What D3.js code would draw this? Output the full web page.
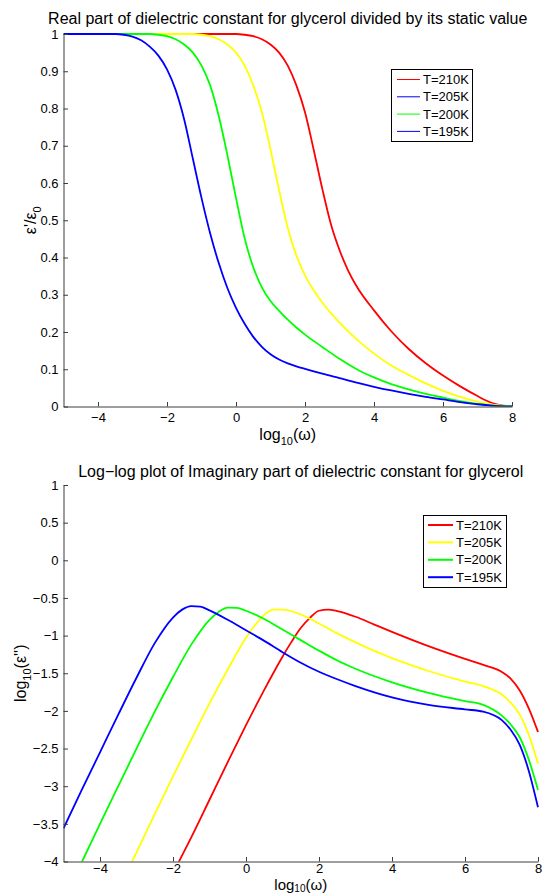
<!DOCTYPE html>
<html><head><meta charset="utf-8">
<script src="https://cdn.jsdelivr.net/npm/d3@7"></script>
<style>
html,body{margin:0;padding:0;background:#fff;}
svg{display:block;font-family:"Liberation Sans",Arial,Helvetica,sans-serif;}
</style></head>
<body>
<svg id="chart" width="543" height="895"></svg>
<script>
// ---------- data ----------
const seriesLabels = ["T=210K", "T=205K", "T=200K", "T=195K"];
const xTicks = [-4, -2, 0, 2, 4, 6, 8];
const yTicksTop = [0, 0.1, 0.2, 0.3, 0.4, 0.5, 0.6, 0.7, 0.8, 0.9, 1];
const yTicksBottom = [1, 0.5, 0, -0.5, -1, -1.5, -2, -2.5, -3, -3.5, -4];

// Real part eps'/eps0 vs log10(omega)
const realX210 = [-5, 0, 0.25, 0.5, 0.75, 1, 1.25, 1.5, 1.75, 2, 2.25, 2.5, 2.75, 3, 3.25, 3.5, 4, 4.5, 5, 5.5, 6, 6.5, 7, 7.25, 7.5, 7.75, 8];
const realY210 = [1, 1, 0.998, 0.994, 0.986, 0.972, 0.95, 0.915, 0.862, 0.79, 0.69, 0.585, 0.49, 0.42, 0.365, 0.322, 0.258, 0.202, 0.155, 0.116, 0.083, 0.054, 0.028, 0.016, 0.007, 0.002, 0];
const realX205 = [-5, -1.25, -1, -0.75, -0.5, -0.25, 0, 0.25, 0.5, 0.75, 1, 1.25, 1.5, 1.75, 2, 2.25, 2.5, 3, 3.5, 4, 4.5, 5, 5.5, 6, 6.5, 7, 7.5, 8];
const realY205 = [1, 1, 0.998, 0.994, 0.986, 0.972, 0.95, 0.915, 0.862, 0.79, 0.69, 0.58, 0.48, 0.405, 0.352, 0.312, 0.279, 0.225, 0.18, 0.142, 0.11, 0.085, 0.062, 0.042, 0.026, 0.013, 0.004, 0];
const realX200 = [-5, -2.5, -2.25, -2, -1.75, -1.5, -1.25, -1, -0.75, -0.5, -0.25, 0, 0.25, 0.5, 0.75, 1, 1.25, 1.5, 1.75, 2, 2.5, 3, 3.5, 4, 4.5, 5, 5.5, 6, 6.5, 7, 7.5, 8];
const realY200 = [1, 1, 0.998, 0.994, 0.986, 0.972, 0.95, 0.915, 0.862, 0.78, 0.675, 0.56, 0.452, 0.374, 0.32, 0.283, 0.257, 0.233, 0.212, 0.193, 0.16, 0.128, 0.1, 0.078, 0.06, 0.046, 0.034, 0.024, 0.0145, 0.007, 0.002, 0];
const realX195 = [-5, -3.5, -3.25, -3, -2.75, -2.5, -2.25, -2, -1.75, -1.5, -1.25, -1, -0.75, -0.5, -0.25, 0, 0.25, 0.5, 0.75, 1, 1.25, 1.5, 1.75, 2, 2.5, 3, 3.5, 4, 4.5, 5, 5.5, 6, 6.5, 7, 7.5, 8];
const realY195 = [1, 1, 0.998, 0.993, 0.983, 0.966, 0.942, 0.905, 0.85, 0.77, 0.665, 0.56, 0.465, 0.385, 0.318, 0.265, 0.222, 0.187, 0.16, 0.14, 0.126, 0.116, 0.108, 0.101, 0.088, 0.076, 0.064, 0.053, 0.043, 0.034, 0.026, 0.019, 0.012, 0.006, 0.0015, 0];

// Imaginary part log10(eps'') vs log10(omega)
const imagX210 = [-1.9, -1.5, -1, -0.5, 0, 0.5, 1, 1.25, 1.5, 1.75, 2, 2.25, 2.5, 3, 3.5, 4, 5, 6, 6.5, 7, 7.25, 7.5, 7.75, 8];
const imagY210 = [-4.06, -3.68, -3.18, -2.68, -2.19, -1.72, -1.28, -1.08, -0.90, -0.765, -0.67, -0.655, -0.675, -0.75, -0.85, -0.95, -1.14, -1.31, -1.39, -1.48, -1.57, -1.73, -1.97, -2.28];
const imagX205 = [-3.2, -3, -2.5, -2, -1.5, -1, -0.5, 0, 0.25, 0.5, 0.75, 1, 1.5, 2, 2.5, 3, 4, 5, 6, 6.5, 7, 7.25, 7.5, 7.75, 8];
const imagY205 = [-4.08, -3.88, -3.37, -2.87, -2.38, -1.90, -1.45, -1.03, -0.86, -0.725, -0.655, -0.655, -0.72, -0.84, -0.97, -1.09, -1.30, -1.47, -1.61, -1.67, -1.78, -1.89, -2.05, -2.32, -2.70];
const imagX200 = [-4.5, -4, -3.5, -3, -2.5, -2, -1.5, -1, -0.75, -0.5, -0.25, 0, 0.5, 1, 1.5, 2, 2.5, 3, 4, 5, 6, 6.5, 7, 7.25, 7.5, 7.75, 8];
const imagY200 = [-4.01, -3.50, -3.00, -2.50, -2.01, -1.55, -1.12, -0.79, -0.685, -0.628, -0.632, -0.67, -0.78, -0.92, -1.06, -1.20, -1.33, -1.44, -1.62, -1.76, -1.87, -1.92, -2.06, -2.18, -2.35, -2.65, -3.05];
const imagX195 = [-5, -4.5, -4, -3.5, -3, -2.5, -2, -1.75, -1.5, -1.25, -1, -0.5, 0, 0.5, 1, 1.5, 2, 2.5, 3, 4, 5, 6, 6.5, 7, 7.25, 7.5, 7.75, 8];
const imagY195 = [-3.56, -3.05, -2.55, -2.05, -1.56, -1.10, -0.76, -0.655, -0.608, -0.615, -0.665, -0.79, -0.93, -1.07, -1.22, -1.36, -1.48, -1.58, -1.67, -1.82, -1.92, -1.98, -2.01, -2.12, -2.25, -2.45, -2.80, -3.28];

// ---------- style ----------
const lineColors = ["#ff0000", "#ffff00", "#00ff00", "#0000ff"];
const topLegendColors = ["#ff0000", "#0000ff", "#00ff00", "#0000ff"];
const axisColor = "#3c3c3c";
const tickFont = 13, titleFont = 16, legendFont = 13;

const svg = d3.select("#chart");
const realSeries = [[realX210, realY210], [realX205, realY205], [realX200, realY200], [realX195, realY195]];
const imagSeries = [[imagX210, imagY210], [imagX205, imagY205], [imagX200, imagY200], [imagX195, imagY195]];

function minus(s){ return String(s).replace("-", "\u2212"); }

function drawPanel(cfg) {
  const x = d3.scaleLinear().domain([-5, 8]).range([cfg.left, cfg.right]);
  const y = d3.scaleLinear().domain(cfg.yDomain).range([cfg.bottom, cfg.top]);
  const g = svg.append("g");
  const clipId = "clip" + cfg.id;
  svg.append("clipPath").attr("id", clipId).append("rect")
    .attr("x", cfg.left).attr("y", cfg.top - 2)
    .attr("width", cfg.right - cfg.left + 2).attr("height", cfg.bottom - cfg.top + 2);

  const line = d3.line().x(d => x(d[0])).y(d => y(d[1])).curve(d3.curveMonotoneX);
  const lg = g.append("g").attr("clip-path", `url(#${clipId})`);
  cfg.series.forEach((s, i) => {
    const pts = s[0].map((xv, k) => [xv, s[1][k]]);
    lg.append("path").datum(pts).attr("d", line)
      .attr("fill", "none").attr("stroke", lineColors[i])
      .attr("stroke-width", 1.8).attr("stroke-linejoin", "round");
  });

  const xAxis = d3.axisBottom(x).tickValues(xTicks).tickSizeInner(-4.5).tickSizeOuter(0)
    .tickPadding(9).tickFormat(d => minus(d));
  const gx = g.append("g").attr("transform", `translate(0,${cfg.bottom})`).call(xAxis);
  const yAxis = d3.axisLeft(y).tickValues(cfg.yTicks).tickSizeInner(-4.5).tickSizeOuter(0)
    .tickPadding(9).tickFormat(d => minus(d));
  const gy = g.append("g").attr("transform", `translate(${cfg.left},0)`).call(yAxis);
  [gx, gy].forEach(a => {
    a.selectAll("path.domain").attr("stroke", axisColor).attr("stroke-width", 1);
    a.selectAll(".tick line").attr("stroke", axisColor).attr("stroke-width", 1);
    a.selectAll("text").attr("font-size", tickFont).attr("fill", "#000")
      .attr("font-family", "Liberation Sans, Arial, sans-serif");
  });
  gy.selectAll(".tick text").attr("x", -5);
  gx.selectAll(".tick text").attr("y", cfg.xTickY);

  svg.append("text").attr("x", (cfg.left + cfg.right) / 2).attr("y", cfg.titleY)
    .attr("text-anchor", "middle").attr("font-size", titleFont).attr("fill", "#000")
    .text(cfg.title);

  const xl = svg.append("text").attr("x", (cfg.left + cfg.right) / 2).attr("y", cfg.xlabelY)
    .attr("text-anchor", "middle").attr("font-size", cfg.xlabelFont).attr("fill", "#000");
  xl.append("tspan").text("log");
  xl.append("tspan").attr("dy", cfg.subDy).attr("font-size", cfg.subFont).text("10");
  xl.append("tspan").attr("dy", -cfg.subDy).text("(\u03c9)");

  const yl = svg.append("text")
    .attr("transform", `translate(${cfg.ylabelX},${(cfg.top + cfg.bottom) / 2}) rotate(-90)`)
    .attr("text-anchor", "middle").attr("font-size", 16).attr("fill", "#000");
  cfg.ylabel(yl);

  const L = cfg.legend;
  const lgG = svg.append("g");
  lgG.append("rect").attr("x", L.x + 0.5).attr("y", L.y + 0.5).attr("width", L.w).attr("height", L.h)
    .attr("fill", "#fff").attr("stroke", "#000").attr("stroke-width", 1);
  seriesLabels.forEach((lab, i) => {
    const cy = L.y + L.first + i * L.step;
    lgG.append("line").attr("x1", L.lx1).attr("x2", L.lx2).attr("y1", cy).attr("y2", cy)
      .attr("stroke", L.colors[i]).attr("stroke-width", L.lw);
    lgG.append("text").attr("x", L.tx).attr("y", cy + 4.6).attr("font-size", legendFont)
      .attr("fill", "#000").text(lab);
  });
}

drawPanel({
  id: "top", left: 63.5, right: 512, top: 34, bottom: 406.5, yDomain: [0, 1], yTicks: yTicksTop,
  series: realSeries,
  title: "Real part of dielectric constant for glycerol divided by its static value", titleY: 24,
  xTickY: 6, xlabelY: 439.5, xlabelFont: 16, subFont: 11, subDy: 5, ylabelX: 36,
  ylabel: t => {
    t.append("tspan").text("\u03b5'/\u03b5");
    t.append("tspan").attr("dy", 5).attr("font-size", 11).text("0");
  },
  legend: { x: 391, y: 69, w: 81, h: 72, first: 10.5, step: 17.3, lx1: 397, lx2: 420, tx: 423, lw: 1, colors: topLegendColors }
});

drawPanel({
  id: "bot", left: 63.5, right: 538, top: 485, bottom: 861.5, yDomain: [-4, 1], yTicks: yTicksBottom,
  series: imagSeries,
  title: "Log\u2212log plot of Imaginary part of dielectric constant for glycerol", titleY: 477,
  xTickY: 2, xlabelY: 889.5, xlabelFont: 15, subFont: 10, subDy: 2.5, ylabelX: 26,
  ylabel: t => {
    t.append("tspan").text("log");
    t.append("tspan").attr("dy", 5).attr("font-size", 11).text("10");
    t.append("tspan").attr("dy", -5).text("(\u03b5'')");
  },
  legend: { x: 423, y: 515, w: 83, h: 72, first: 10, step: 17.4, lx1: 428, lx2: 453, tx: 456, lw: 2, colors: lineColors }
});
</script>
</body></html>
